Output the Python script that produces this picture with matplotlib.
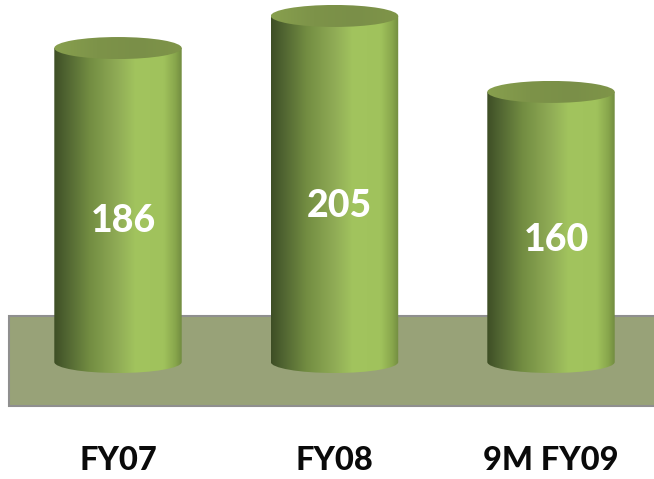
import numpy as np
import matplotlib
matplotlib.use('Agg')
import matplotlib.pyplot as plt
from matplotlib.colors import LinearSegmentedColormap
from matplotlib.patches import Ellipse, PathPatch, Rectangle
from matplotlib.path import Path

categories = ['FY07', 'FY08', '9M FY09']
values = [186, 205, 160]

W, H = 654, 479
PX_PER_UNIT = 1.688    # vertical pixels per value unit
PX_PER_CAT = 216.5     # horizontal pixels between bars
X0_PX, Y0_PX = 118, 362  # where bar 0 / value 0 sit in the image
AXES_BOTTOM_PX = 406

HALF_W = 63.7 / PX_PER_CAT
CAP_H = 11.0 / PX_PER_UNIT
LABEL_POS = 0.45
LABEL_DX = 5 / PX_PER_CAT

body_cmap = LinearSegmentedColormap.from_list('body', [
    (0.00, '#3e4e25'), (0.08, '#4d6130'), (0.28, '#738d42'), (0.50, '#90ac56'),
    (0.64, '#a2c45e'), (0.86, '#a0c25c'), (0.95, '#88a64c'), (1.00, '#728c40'),
])
top_cmap = LinearSegmentedColormap.from_list('top', ['#88a04e', '#7d9349', '#7a8f48', '#7f9549'])

fig = plt.figure(figsize=(W / 100, H / 100), dpi=100)
ax = fig.add_axes([0, (H - AXES_BOTTOM_PX) / H, 1, AXES_BOTTOM_PX / H])
xlim = (-X0_PX / PX_PER_CAT, (W - X0_PX) / PX_PER_CAT)
ylim = ((Y0_PX - AXES_BOTTOM_PX) / PX_PER_UNIT, Y0_PX / PX_PER_UNIT)

# floor band behind the cylinders
floor_left = (9 - X0_PX) / PX_PER_CAT
floor_top = (Y0_PX - 316) / PX_PER_UNIT
ax.add_patch(Rectangle((floor_left, ylim[0]), xlim[1] - floor_left + 0.1, floor_top - ylim[0],
                       facecolor='#98a278', edgecolor='#8f8f8f', linewidth=1.5, clip_on=False, zorder=1))

grad = np.linspace(0, 1, 256).reshape(1, -1)
K = 0.5522848
for i, val in enumerate(values):
    l, r = i - HALF_W, i + HALF_W
    # side of the cylinder, rounded at the bottom
    verts = [(l, val), (l, 0),
             (l, -K * CAP_H), (i - K * HALF_W, -CAP_H), (i, -CAP_H),
             (i + K * HALF_W, -CAP_H), (r, -K * CAP_H), (r, 0),
             (r, val), (l, val)]
    codes = [Path.MOVETO, Path.LINETO,
             Path.CURVE4, Path.CURVE4, Path.CURVE4,
             Path.CURVE4, Path.CURVE4, Path.CURVE4,
             Path.LINETO, Path.CLOSEPOLY]
    body = PathPatch(Path(verts, codes), facecolor='none', edgecolor='none', zorder=2)
    ax.add_patch(body)
    im = ax.imshow(grad, cmap=body_cmap, extent=(l, r, -CAP_H, val), aspect='auto', zorder=2)
    im.set_clip_path(body)

    # lid
    lid = Ellipse((i, val), 2 * HALF_W, 2 * CAP_H, facecolor='none', edgecolor='none', zorder=3)
    ax.add_patch(lid)
    im = ax.imshow(grad, cmap=top_cmap, extent=(l, r, val - CAP_H, val + CAP_H), aspect='auto', zorder=3)
    im.set_clip_path(lid)

    ax.text(i + LABEL_DX, val * LABEL_POS, str(val), color='white', fontsize=27, fontweight=900,
            family='Lato', ha='center', va='center', zorder=4)

ax.set_xlim(xlim)
ax.set_ylim(ylim)
ax.set_xticks(range(len(categories)))
ax.set_xticklabels(categories, fontsize=23.5, fontweight=900, family='Lato', color='#0a0a0a')
ax.tick_params(axis='x', length=0, pad=29)
ax.set_yticks([])
for s in ax.spines.values():
    s.set_visible(False)
ax.patch.set_visible(False)

fig.savefig('out.png', dpi=100)
